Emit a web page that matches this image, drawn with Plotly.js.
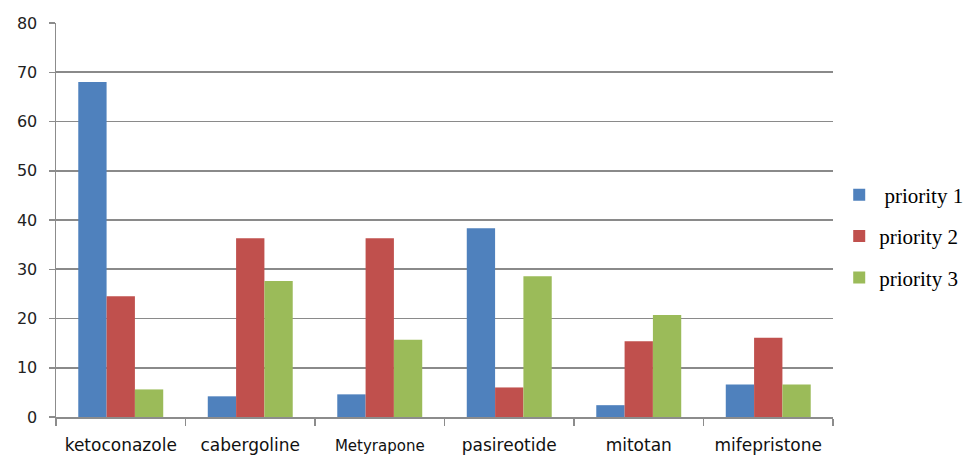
<!DOCTYPE html>
<html>
<head>
<meta charset="utf-8">
<script src="https://cdn.plot.ly/plotly-3.0.1.min.js"></script>
<style>html,body{margin:0;padding:0;background:#fff;}#chart{width:965px;height:456px;}</style>
</head>
<body>
<div id="chart"></div>
<script>
var categories = ["ketoconazole", "cabergoline", "Metyrapone", "pasireotide", "mitotan", "mifepristone"];
var priority1 = [68.0, 4.2, 4.6, 38.3, 2.4, 6.6];
var priority2 = [24.5, 36.3, 36.3, 6.0, 15.4, 16.1];
var priority3 = [5.6, 27.6, 15.7, 28.6, 20.7, 6.6];
var seriesNames = [" priority 1", "priority 2", "priority 3"];
var yTicks = [0, 10, 20, 30, 40, 50, 60, 70, 80];

var colors = ["#4F81BD", "#C0504D", "#9BBB59"];
var series = [priority1, priority2, priority3];
var traces = series.map(function (vals, i) {
  return {
    type: "bar",
    x: categories,
    y: vals,
    name: seriesNames[i],
    legendgroup: "g" + i,
    marker: {color: colors[i], line: {width: 0}},
    hoverinfo: "x+y"
  };
});

var tickText = categories.map(function (c) {
  return c === "Metyrapone" ? '<span style="font-size:15px">' + c + '</span>' : c;
});

var layout = {
  width: 965,
  height: 456,
  margin: {l: 56, r: 132, t: 23, b: 39, autoexpand: false},
  paper_bgcolor: "#ffffff",
  plot_bgcolor: "#ffffff",
  barmode: "group",
  bargap: 0.344,
  bargroupgap: 0,
  showlegend: true,
  legend: {
    x: 1.008, xanchor: "left", y: 0.459, yanchor: "middle",
    xref: "paper",
    font: {family: "Liberation Serif, DejaVu Serif, serif", size: 21, color: "#000"},
    traceorder: "grouped",
    tracegroupgap: 11,
    bgcolor: "rgba(0,0,0,0)"
  },
  xaxis: {
    type: "category",
    tickmode: "array",
    tickvals: categories,
    ticktext: tickText,
    showline: true, linecolor: "#8c8c8c", linewidth: 1.5,
    ticks: "outside", tickson: "boundaries", ticklen: 7, tickcolor: "#8c8c8c", tickwidth: 1.5,
    showgrid: false,
    tickfont: {family: "DejaVu Sans, sans-serif", size: 17, color: "#111"},
    ticklabelstandoff: 12,
    fixedrange: true
  },
  yaxis: {
    range: [0, 80],
    tickmode: "array",
    tickvals: yTicks,
    ticktext: yTicks.map(String),
    showline: true, linecolor: "#8c8c8c", linewidth: 1.5,
    ticks: "outside", ticklen: 6, tickcolor: "#8c8c8c", tickwidth: 1.5,
    showgrid: true, gridcolor: "#8a8a8a", gridwidth: 1.8,
    zeroline: false,
    tickfont: {family: "DejaVu Sans, sans-serif", size: 16, color: "#222"},
    ticklabelstandoff: 8,
    fixedrange: true
  }
};

Plotly.newPlot("chart", traces, layout, {displayModeBar: false, staticPlot: true});
</script>
</body>
</html>
